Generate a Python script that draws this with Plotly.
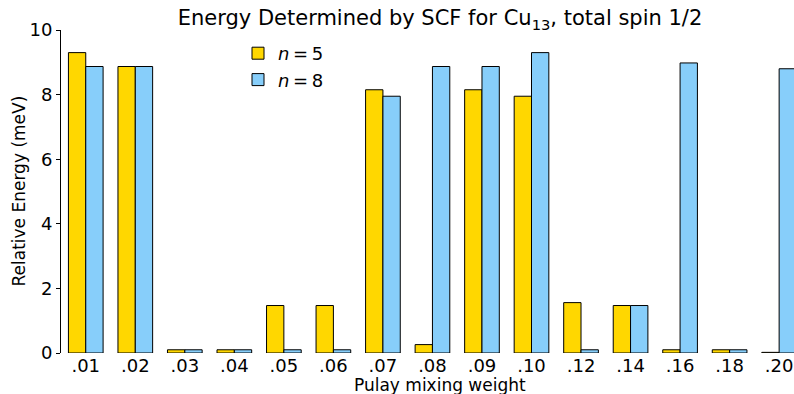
import plotly.graph_objects as go

categories = [".01", ".02", ".03", ".04", ".05", ".06", ".07", ".08",
              ".09", ".10", ".12", ".14", ".16", ".18", ".20"]
n5_values = [9.3, 8.87, 0.1, 0.1, 1.47, 1.47, 8.15, 0.26,
             8.15, 7.95, 1.56, 1.47, 0.1, 0.1, 0.02]
n8_values = [8.87, 8.87, 0.1, 0.1, 0.1, 0.1, 7.95, 8.87,
             8.87, 9.3, 0.1, 1.47, 8.98, 0.1, 8.8]
y_ticks = [0, 2, 4, 6, 8, 10]

FONT = "DejaVu Sans"
W, H = 794, 394
L, R, T, B = 61, 0, 30, 41
PW, PH = W - L - R, H - T - B

fig = go.Figure()
fig.add_trace(go.Bar(
    x=categories, y=n5_values, name="<i>n</i>\u2009=\u20095",
    marker=dict(color="#FFD700", line=dict(color="black", width=1)),
))
fig.add_trace(go.Bar(
    x=categories, y=n8_values, name="<i>n</i>\u2009=\u20098",
    marker=dict(color="#87CEFA", line=dict(color="black", width=1)),
))

fig.update_layout(
    width=W, height=H,
    margin=dict(l=L, r=R, t=T, b=B, autoexpand=False),
    plot_bgcolor="white", paper_bgcolor="white",
    barmode="group", bargap=0.3, bargroupgap=0,
    font=dict(family=FONT, size=18, color="black"),
    title=dict(
        text="Energy Determined by SCF for Cu<sub>13</sub>, total spin 1/2",
        x=440 / W, xref="container", xanchor="center",
        y=1 - 18 / H, yref="container", yanchor="middle",
        font=dict(family=FONT, size=21, color="black"),
    ),
    legend=dict(
        x=(238 - L) / PW, y=(H - B - 35) / PH, xanchor="left", yanchor="top",
        bgcolor="rgba(0,0,0,0)", font=dict(family=FONT, size=18),
        traceorder="normal",
    ),
    showlegend=True,
    annotations=[
        dict(text="Pulay mixing weight", xref="paper", yref="paper",
             x=(440 - L) / PW, y=-(385 - (H - B)) / PH, xanchor="center", yanchor="middle",
             showarrow=False, font=dict(family=FONT, size=17, color="black")),
        dict(text="Relative Energy (meV)", xref="paper", yref="paper",
             x=-(L - 18) / PW, y=0.5, xanchor="center", yanchor="middle",
             textangle=-90, showarrow=False,
             font=dict(family=FONT, size=17, color="black")),
    ],
)

fig.update_xaxes(
    range=[-0.5, 14.3], showline=False, showgrid=False, zeroline=False,
    automargin=False,
    ticks="", ticklen=0,
    tickfont=dict(family=FONT, size=18),
)
fig.update_yaxes(
    range=[0, 10], tickvals=y_ticks, ticktext=[str(v) for v in y_ticks],
    showline=True, linecolor="black", linewidth=1,
    showgrid=False, zeroline=False, automargin=False,
    ticks="outside", ticklen=4, tickcolor="black",
    tickfont=dict(family=FONT, size=18),
)

fig.write_html(
    "out.html",
    config={"displayModeBar": False},
    post_script="document.body.style.margin='0';document.body.style.overflow='hidden';",
)
